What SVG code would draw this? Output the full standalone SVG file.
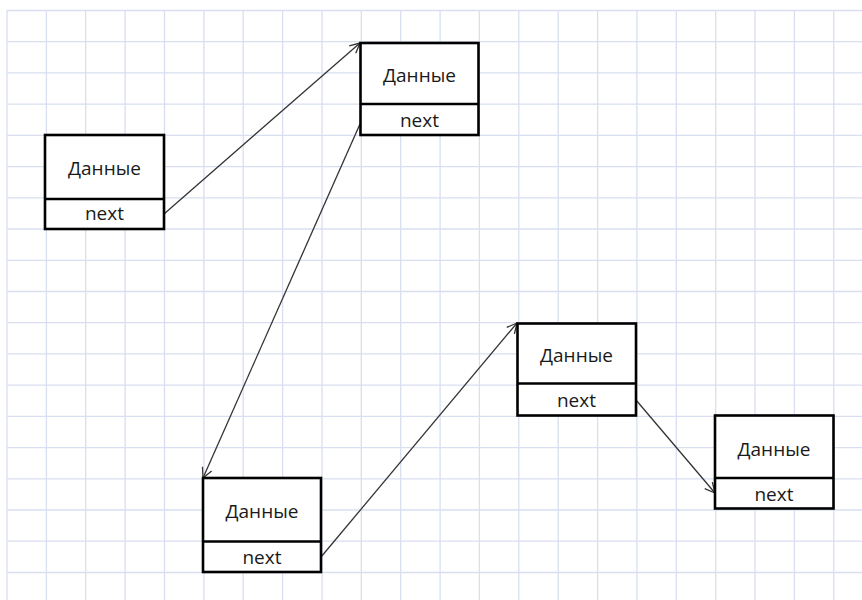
<svg xmlns="http://www.w3.org/2000/svg" width="862" height="600" viewBox="0 0 862 600">
<defs>
<style>
.grid line{stroke:#d9dff0;stroke-width:1.3}
.box rect{fill:#fff;stroke:#000;stroke-width:2.6}
.box line{stroke:#000;stroke-width:2.6}
.box text{font-family:"Open Sans","Liberation Sans",sans-serif;font-size:19px;fill:#1a1a1a;text-anchor:middle}
.conn line{stroke:#333;stroke-width:1.3;fill:none;marker-end:url(#arr)}
</style>
<marker id="arr" viewBox="0 0 12 12" refX="11" refY="6" markerWidth="12" markerHeight="12" markerUnits="userSpaceOnUse" orient="auto">
<path d="M1,1 L11,6 L1,11" fill="none" stroke="#333" stroke-width="1.3"/>
</marker>
</defs>
<rect width="862" height="600" fill="#fff"/>
<g class="grid">
<line x1="7" y1="10" x2="7" y2="600"/><line x1="46.4" y1="10" x2="46.4" y2="600"/><line x1="85.7" y1="10" x2="85.7" y2="600"/><line x1="125.1" y1="10" x2="125.1" y2="600"/><line x1="164.5" y1="10" x2="164.5" y2="600"/><line x1="203.9" y1="10" x2="203.9" y2="600"/><line x1="243.2" y1="10" x2="243.2" y2="600"/><line x1="282.6" y1="10" x2="282.6" y2="600"/><line x1="322" y1="10" x2="322" y2="600"/><line x1="361.3" y1="10" x2="361.3" y2="600"/><line x1="400.7" y1="10" x2="400.7" y2="600"/><line x1="440.1" y1="10" x2="440.1" y2="600"/><line x1="479.4" y1="10" x2="479.4" y2="600"/><line x1="518.8" y1="10" x2="518.8" y2="600"/><line x1="558.2" y1="10" x2="558.2" y2="600"/><line x1="597.6" y1="10" x2="597.6" y2="600"/><line x1="636.9" y1="10" x2="636.9" y2="600"/><line x1="676.3" y1="10" x2="676.3" y2="600"/><line x1="715.7" y1="10" x2="715.7" y2="600"/><line x1="755" y1="10" x2="755" y2="600"/><line x1="794.4" y1="10" x2="794.4" y2="600"/><line x1="833.8" y1="10" x2="833.8" y2="600"/>
<line x1="7" y1="10.5" x2="862" y2="10.5"/><line x1="7" y1="41.7" x2="862" y2="41.7"/><line x1="7" y1="72.9" x2="862" y2="72.9"/><line x1="7" y1="104.2" x2="862" y2="104.2"/><line x1="7" y1="135.4" x2="862" y2="135.4"/><line x1="7" y1="166.6" x2="862" y2="166.6"/><line x1="7" y1="197.8" x2="862" y2="197.8"/><line x1="7" y1="229" x2="862" y2="229"/><line x1="7" y1="260.3" x2="862" y2="260.3"/><line x1="7" y1="291.5" x2="862" y2="291.5"/><line x1="7" y1="322.7" x2="862" y2="322.7"/><line x1="7" y1="353.9" x2="862" y2="353.9"/><line x1="7" y1="385.1" x2="862" y2="385.1"/><line x1="7" y1="416.4" x2="862" y2="416.4"/><line x1="7" y1="447.6" x2="862" y2="447.6"/><line x1="7" y1="478.8" x2="862" y2="478.8"/><line x1="7" y1="510" x2="862" y2="510"/><line x1="7" y1="541.2" x2="862" y2="541.2"/><line x1="7" y1="572.5" x2="862" y2="572.5"/>
</g>
<g class="conn">
<line x1="164" y1="214" x2="360" y2="43"/>
<line x1="360" y1="124" x2="203" y2="478"/>
<line x1="321" y1="557" x2="517" y2="323"/>
<line x1="636" y1="400" x2="715" y2="493"/>
</g>
<g id="node1" class="box">
<rect x="45" y="135" width="119" height="94"/>
<line x1="45" y1="199" x2="164" y2="199"/>
<text x="104.5" y="175">Данные</text>
<text x="104.5" y="220">next</text>
</g>
<g id="node2" class="box">
<rect x="360.5" y="43" width="118" height="92"/>
<line x1="360.5" y1="104" x2="478.5" y2="104"/>
<text x="419.5" y="82">Данные</text>
<text x="419.5" y="127">next</text>
</g>
<g id="node3" class="box">
<rect x="203" y="478" width="118" height="94"/>
<line x1="203" y1="541.5" x2="321" y2="541.5"/>
<text x="262" y="518">Данные</text>
<text x="262" y="564">next</text>
</g>
<g id="node4" class="box">
<rect x="517.5" y="323.5" width="118.5" height="92"/>
<line x1="517.5" y1="383.5" x2="636" y2="383.5"/>
<text x="576.5" y="362">Данные</text>
<text x="576.5" y="407">next</text>
</g>
<g id="node5" class="box">
<rect x="715" y="415.5" width="118.5" height="93"/>
<line x1="715" y1="478" x2="833.5" y2="478"/>
<text x="774" y="456">Данные</text>
<text x="774" y="501">next</text>
</g>
</svg>
